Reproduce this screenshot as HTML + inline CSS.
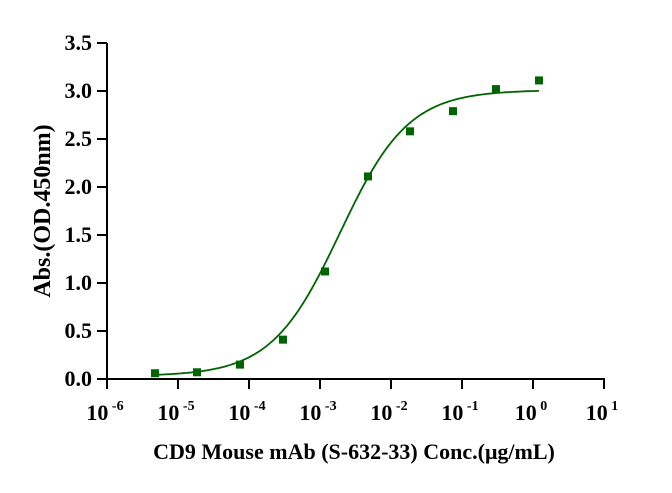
<!DOCTYPE html>
<html><head><meta charset="utf-8"><style>
body{margin:0;background:#fff;}
svg text{font-family:"Liberation Serif",serif;font-weight:bold;fill:#000;}
</style></head><body>
<svg id="s" width="672" height="488" viewBox="0 0 672 488" xmlns="http://www.w3.org/2000/svg">
<g stroke="#000" stroke-width="2" fill="none">
<line x1="107" y1="43" x2="107" y2="380"/>
<line x1="106" y1="379" x2="605" y2="379"/>
</g>
<g id="ticks" stroke="#000" stroke-width="2"></g>
<g id="lbl" font-size="22"></g>
<text x="354" y="459" font-size="22" text-anchor="middle">CD9 Mouse mAb (S-632-33) Conc.(μg/mL)</text>
<text transform="translate(50,211) rotate(-90)" font-size="24" text-anchor="middle">Abs.(OD.450nm)</text>
<path id="curve" fill="none" stroke="#006400" stroke-width="1.8"/>
<g id="pts" fill="#006400"></g>
</svg>
<script>
var ns="http://www.w3.org/2000/svg";
function el(t,a,p,txt){var e=document.createElementNS(ns,t);for(var k in a)e.setAttribute(k,a[k]);if(txt!==undefined)e.textContent=txt;document.getElementById(p).appendChild(e);return e;}
for(var i=0;i<=7;i++){var x=107+i*71;el("line",{x1:x,y1:379,x2:x,y2:389},"ticks");
var t=el("text",{x:x-2,y:420,"text-anchor":"middle"},"lbl");
t.innerHTML='10<tspan font-size="14" dy="-10"> '+(i-6)+'</tspan>';}
for(var j=0;j<=7;j++){var y=379-j*48;el("line",{x1:97,y1:y,x2:107,y2:y},"ticks");
el("text",{x:92,y:y+7,"text-anchor":"end"},"lbl",(j*0.5).toFixed(1));}
var xs=[155,197,240,283,325,368,410,453,496,539],vs=[0.06,0.07,0.15,0.41,1.12,2.11,2.58,2.79,3.02,3.11];
for(var k=0;k<10;k++)el("rect",{x:xs[k]-4,y:379-vs[k]*96-4,width:8,height:8},"pts");
var d="";for(var x=155;x<=539;x+=2){var lg=-6+(x-107)/71;var v=0.03+2.98/(1+Math.pow(10,0.9*(-2.72-lg)));d+=(x==155?"M":"L")+x+","+(379-v*96).toFixed(1);}
document.getElementById("curve").setAttribute("d",d);
</script>
</body></html>
